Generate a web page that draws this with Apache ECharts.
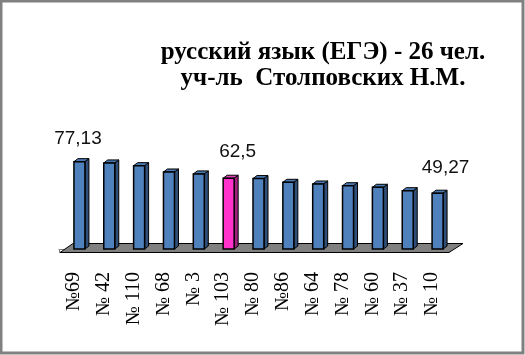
<!DOCTYPE html>
<html>
<head>
<meta charset="utf-8">
<script src="https://cdn.jsdelivr.net/npm/echarts@6/dist/echarts.min.js"></script>
<style>
html,body{margin:0;padding:0;background:#fff;}
#c{width:525px;height:355px;}
</style>
</head>
<body>
<div id="c"></div>
<script>
const categories = ['№69','№ 42','№ 110','№ 68','№ 3','№ 103','№ 80','№86','№ 64','№ 78','№ 60','№ 37','№ 10'];
const values = [77.13, 76.0, 73.6, 68.0, 66.3, 62.5, 62.2, 58.9, 57.4, 55.9, 54.5, 51.5, 49.27];
const highlighted = [5];
const labeled = [0, 5, 12];
const titleLines = ['русский язык (ЕГЭ) - 26 чел.', 'уч-ль  Столповских Н.М.'];

const labelShift = {0: [-1.5, -15], 5: [9, -19], 12: [8, -18]};
const DX = 4, DY = -3, FRONT_W = 11, BAR_SHIFT = 0;

const chart = echarts.init(document.getElementById('c'), null, {renderer: 'canvas'});

function fmt(v){ return String(v).replace('.', ','); }

function renderBar(params, api){
  const i = api.value(0);
  const v = api.value(1);
  const top = api.coord([i, v]);
  const base = api.coord([i, 0]);
  const x = top[0] + BAR_SHIFT;
  const yT = top[1], yB = base[1];
  const pink = highlighted.indexOf(i) >= 0;
  const front = pink ? '#FF33CC' : '#4F81BD';
  const side = pink ? '#A0207F' : '#2F4E78';
  const topc = pink ? '#E040B8' : '#4A78B0';
  const line = {stroke: '#000', lineWidth: 1};
  const children = [
    {type: 'polygon', shape: {points: [[x+FRONT_W, yT],[x+FRONT_W+DX, yT+DY],[x+FRONT_W+DX, yB+DY],[x+FRONT_W, yB]]}, style: Object.assign({fill: side}, line)},
    {type: 'polygon', shape: {points: [[x, yT],[x+DX, yT+DY],[x+FRONT_W+DX, yT+DY],[x+FRONT_W, yT]]}, style: Object.assign({fill: topc}, line)},
    {type: 'rect', shape: {x: x, y: yT, width: FRONT_W, height: yB - yT}, style: Object.assign({fill: front}, line, {lineWidth: 1.5})}
  ];
  if (labeled.indexOf(i) >= 0) {
    const s = labelShift[i] || [0, -15];
    children.push({type: 'text', style: {text: fmt(v), x: x + FRONT_W/2 + s[0], y: yT + s[1] + 2, align: 'center', verticalAlign: 'bottom', font: '19px "Liberation Sans", Arial, sans-serif', fill: '#111'}});
  }
  return {type: 'group', children: children};
}

function renderFloor(params, api){
  const bw = api.size([1, 0])[0];
  const p = api.coord([0, 0]);
  const x0 = p[0] - bw/2 + 1;
  const x1 = p[0] - bw/2 + bw*categories.length;
  const y0 = p[1];
  return {type: 'polygon', shape: {points: [[x0, y0+3.5],[x0+13, y0-5.5],[x1+16, y0-5.5],[x1+2, y0+3.5]]}, style: {fill: '#808080', stroke: '#000', lineWidth: 1}};
}

chart.setOption({
  animation: false,
  backgroundColor: '#fff',
  title: {
    text: titleLines.join('\n'),
    left: 318, top: 35, textAlign: 'center',
    textStyle: {fontFamily: '"Liberation Serif", "Times New Roman", serif', fontWeight: 'bold', fontSize: 25, lineHeight: 26, color: '#000'}
  },
  grid: {left: 59, right: 78, top: 158.4, bottom: 106, containLabel: false},
  xAxis: {
    type: 'category', data: categories, offset: 4,
    axisLine: {show: true, lineStyle: {color: '#808080', width: 1}},
    axisTick: {show: true, length: 4, lineStyle: {color: '#808080'}},
    axisLabel: {rotate: 90, margin: 19, fontFamily: '"Liberation Serif", "Times New Roman", serif', fontSize: 20, color: '#000', interval: 0}
  },
  yAxis: {type: 'value', min: 0, max: 80, show: false, splitLine: {show: false}},
  graphic: [{type: 'rect', shape: {x: 1, y: 1, width: 522, height: 352}, style: {fill: 'none', stroke: '#808080', lineWidth: 3}, z: 100}],
  series: [
    {type: 'custom', renderItem: renderFloor, data: [[0, 0]], z: 1, silent: true},
    {type: 'custom', renderItem: renderBar, data: values.map((v, i) => [i, v]), z: 2}
  ]
});
</script>
</body>
</html>
